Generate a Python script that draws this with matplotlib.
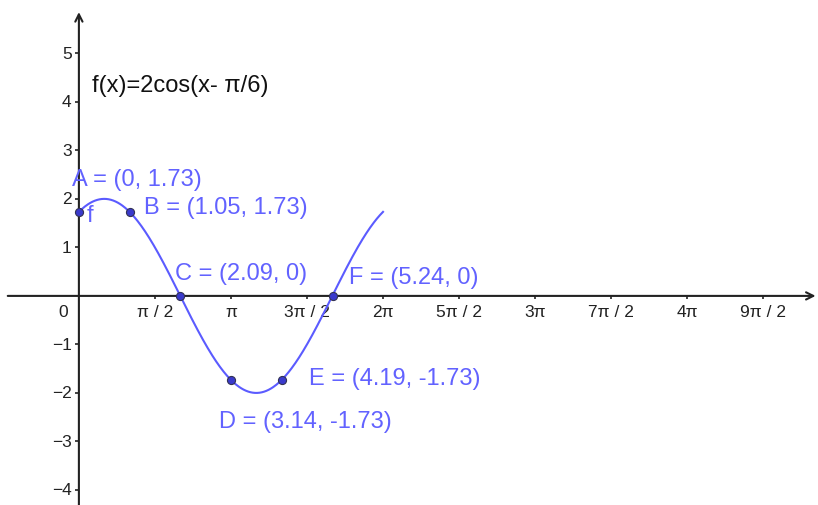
"""Graph of f(x)=2cos(x - pi/6) with marked points, drawn in a plain coordinate-plane style."""
import numpy as np
import matplotlib

matplotlib.use("Agg")
import matplotlib.pyplot as plt  # noqa: E402

plt.rcParams["font.family"] = ["Liberation Sans", "DejaVu Sans"]

# point data
point_names = ["A", "B", "C", "D", "E", "F"]
point_x = [0, 1.05, 2.09, 3.14, 4.19, 5.24]
point_y = [1.73, 1.73, 0, -1.73, -1.73, 0]

# axis tick values / labels
x_tick_mult = [1, 2, 3, 4, 5, 6, 7, 8, 9]  # multiples of pi/2
x_tick_labels = ["π / 2", "π", "3π / 2", "2π", "5π / 2", "3π", "7π / 2", "4π", "9π / 2"]
y_ticks = [-4, -3, -2, -1, 1, 2, 3, 4, 5]

CURVE = "#5b5bff"
TEXT_BLUE = "#6262ff"
AX = "#222222"
label_offsets = {
    "A": (-5, 24), "B": (10, 3.5), "C": (-3.5, 16.5),
    "D": (-8.5, -29.5), "E": (20, 1.5), "F": (12, 13.5),
}

fig = plt.figure(figsize=(8.18, 5.06), dpi=100)
ax = fig.add_axes([0, 0, 1, 1])
ax.set_xlim(-1.63, 15.27)
ax.set_ylim(-4.31, 6.12)
ax.axis("off")

# axes with open arrow heads
arrow = dict(arrowstyle="->", color=AX, lw=1.5, mutation_scale=13, shrinkA=0, shrinkB=0)
ax.annotate("", xy=(15.22, 0), xytext=(-1.47, 0), arrowprops=arrow)
ax.annotate("", xy=(0, 5.85), xytext=(0, -4.31), arrowprops=arrow)

# x ticks and labels
xt = [m * np.pi / 2 for m in x_tick_mult]
ax.vlines(xt, -0.07, 0, color=AX, lw=1.2)
for x, lab in zip(xt, x_tick_labels):
    ax.text(x, -0.33, lab, ha="center", va="center", fontsize=12.5, color=AX)

# y ticks and labels
ax.hlines(y_ticks, -0.08, 0, color=AX, lw=1.2)
for y in y_ticks:
    ax.text(-0.15, y, f"{y}".replace("-", "−"), ha="right", va="center",
            fontsize=12.5, color=AX)
ax.text(-0.22, -0.33, "0", ha="right", va="center", fontsize=12.5, color=AX)

# the function
xs = np.linspace(0, 2 * np.pi, 400)
ax.plot(xs, 2 * np.cos(xs - np.pi / 6), color=CURVE, lw=1.5, zorder=3)
ax.text(0.17, 1.66, "f", ha="left", va="center", fontsize=17, color=TEXT_BLUE)
ax.text(0.27, 4.35, "f(x)=2cos(x- π/6)", ha="left", va="center", fontsize=17, color="#111111")

# labelled points
ax.scatter(point_x, point_y, s=34, color="#3a3acc", edgecolor="#333355", lw=0.8, zorder=4)
for name, x, y in zip(point_names, point_x, point_y):
    ys = f"{y:g}" if y != 0 else "0"
    ax.annotate(f"{name} = ({x:g}, {ys})", (x, y), xytext=label_offsets[name],
                textcoords="offset points", ha="left", va="center",
                fontsize=17, color=TEXT_BLUE)

fig.savefig("out.png", dpi=100)
